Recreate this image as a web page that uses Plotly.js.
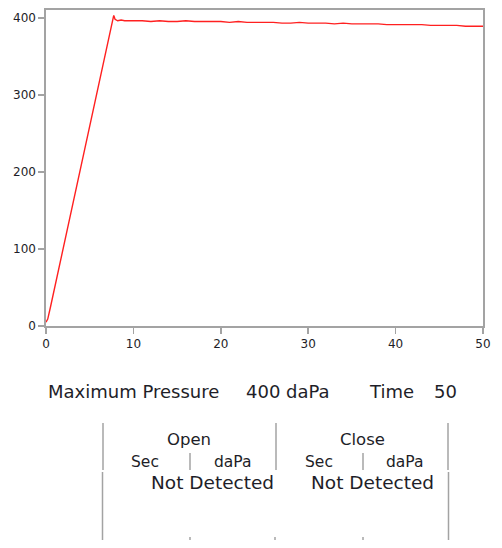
<!DOCTYPE html>
<html>
<head>
<meta charset="utf-8">
<script src="https://cdn.plot.ly/plotly-3.0.1.min.js"></script>
<style>html,body{margin:0;padding:0;background:#fff;}#chart{width:502px;height:548px;}</style>
</head>
<body>
<div id="chart"></div>
<script>
// ---- data ----
const time = [0,0.2,0.5,1,1.5,2,2.5,3,3.5,4,4.5,5,5.5,6,6.5,7,7.5,7.75,7.9,8.2,8.6,9,
  10,11,12,13,14,15,16,17,18,19,20,21,22,23,24,25,26,27,28,29,30,
  31,32,33,34,35,36,37,38,39,40,41,42,43,44,45,46,47,48,49,50];
const pressure = [5,9,24,50,77,104,130,157,183,210,236,262,288,313,338,363,389,403,398,396,397,396,
  396,396,395,396,395,395,396,395,395,395,395,394,395,394,394,394,394,393,393,394,393,
  393,393,392,393,392,392,392,392,391,391,391,391,391,390,390,390,390,389,389,389];
const yTicks = [0,100,200,300,400];
const xTicks = [0,10,20,30,40,50];
const summaryLabels = ["Maximum Pressure", "400 daPa", "Time", "50"];
const groupLabels = ["Open", "Close"];
const subLabels = ["Sec", "daPa", "Sec", "daPa"];
const resultLabels = ["Not Detected", "Not Detected"];

// ---- layout helpers (pixel -> paper) ----
const L = 46, R = 483, T = 10, B = 326;
const px = x => (x - L) / (R - L);
const py = y => (B - y) / (B - T);
const FONT = "DejaVu Sans, Verdana, sans-serif";
const TXT = "#1e1e28";
const GRAY = "#a3a3a3";

const annotations = [];
function txt(text, x, y, size, anchor) {
  annotations.push({text: text, x: px(x), y: py(y), xref: "paper", yref: "paper",
    xanchor: anchor || "center", yanchor: "middle", showarrow: false, borderpad: 0,
    font: {family: FONT, size: size, color: TXT}});
}
const sumX = [47, 245, 368, 433];
summaryLabels.forEach((s, i) => txt(s, sumX[i], 391, 18, "left"));
txt(groupLabels[0], 189, 439, 16.5);
txt(groupLabels[1], 362, 439, 16.5);
const subX = [145, 233, 319, 405];
subLabels.forEach((s, i) => txt(s, subX[i], 462, 15.5));
txt(resultLabels[0], 212, 482, 18.5);
txt(resultLabels[1], 372, 482, 18.5);

const shapes = [];
function vline(x, y0, y1) {
  shapes.push({type: "line", xref: "paper", yref: "paper", x0: px(x), x1: px(x),
    y0: py(y0), y1: py(y1), line: {color: GRAY, width: 1.5}});
}
vline(103, 423, 470); vline(102.5, 472, 540);
vline(276, 423, 470);
vline(448, 423, 470); vline(448.5, 472, 540);
vline(190, 453, 470); vline(363, 453, 470);
// small bottom marks
[190, 275, 363].forEach(x => vline(x, 537, 540));

const trace = {x: time, y: pressure, type: "scatter", mode: "lines",
  line: {color: "#ff2020", width: 1.4}, hoverinfo: "skip"};

const axisCommon = {showgrid: false, zeroline: false, showline: true, linecolor: GRAY,
  linewidth: 1.6, mirror: true, ticks: "outside", tickcolor: GRAY, tickwidth: 1.6,
  ticklen: 6, tickfont: {family: FONT, size: 12, color: TXT}, fixedrange: true};

const layout = {
  width: 502, height: 548, autosize: false,
  margin: {l: L, r: 502 - R, t: T, b: 548 - B, pad: 0},
  paper_bgcolor: "#fff", plot_bgcolor: "#fff",
  showlegend: false,
  xaxis: Object.assign({}, axisCommon, {range: [0, 50], tickvals: xTicks, ticklabelstandoff: 0}),
  yaxis: Object.assign({}, axisCommon, {range: [0, 410], tickvals: yTicks, ticklabelstandoff: 0}),
  annotations: annotations, shapes: shapes
};
Plotly.newPlot("chart", [trace], layout, {staticPlot: true, displayModeBar: false});
</script>
</body>
</html>
